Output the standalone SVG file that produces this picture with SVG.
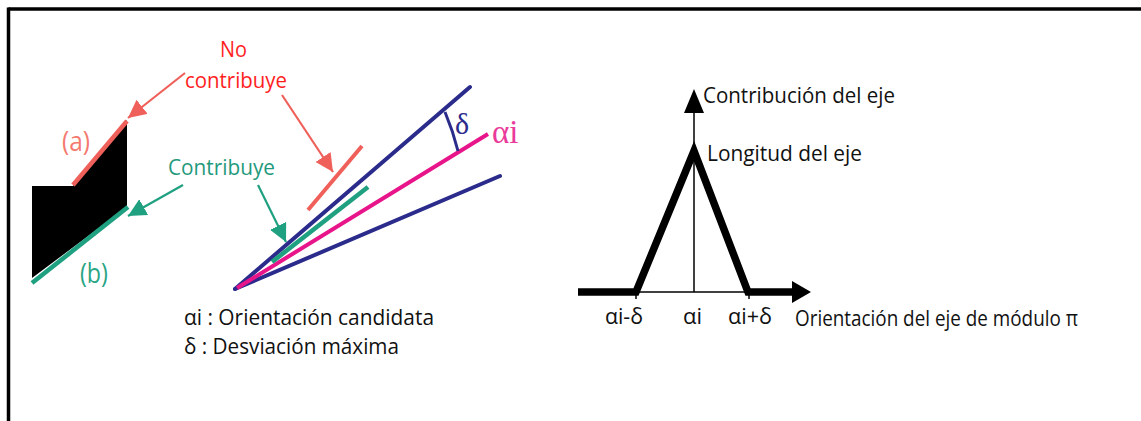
<svg xmlns="http://www.w3.org/2000/svg" width="1141" height="421" viewBox="0 0 1141 421">
<style>
.t{font-family:"Open Sans","Noto Sans","Liberation Sans",sans-serif;font-size:22px;fill:#111}
.red{font-family:"Open Sans","Noto Sans","Liberation Sans",sans-serif;font-size:22px;fill:#ff1e1e}
.teal{font-family:"Open Sans","Noto Sans","Liberation Sans",sans-serif;font-size:21px;fill:#1f9a7c}
.sal{font-family:"Open Sans","Noto Sans","Liberation Sans",sans-serif;font-size:27px;fill:#f47a70}
.tl{font-family:"Open Sans","Noto Sans","Liberation Sans",sans-serif;font-size:27px;fill:#2aa585}
.ser{font-family:"Liberation Serif","DejaVu Serif",serif}
.ra{stroke:#f0605a;stroke-width:2.2;fill:none}
.ta{stroke:#1fa080;stroke-width:2.2;fill:none}
</style>
<defs>
<marker id="mr" markerUnits="userSpaceOnUse" markerWidth="22" markerHeight="22" refX="18" refY="9" orient="auto"><path d="M0,0 L18,9 L0,18 Z" fill="#f0605a"/></marker>
<marker id="mt" markerUnits="userSpaceOnUse" markerWidth="22" markerHeight="22" refX="18" refY="9" orient="auto"><path d="M0,0 L18,9 L0,18 Z" fill="#1fa080"/></marker>
</defs>
<rect width="1141" height="421" fill="#fff"/>
<g id="frame">
<line x1="8.5" y1="9" x2="1141" y2="9" stroke="#000" stroke-width="3.5"/>
<line x1="8.5" y1="7.5" x2="8.5" y2="421" stroke="#000" stroke-width="3.5"/>
</g>
<g id="shape">
<polygon points="32,186 73,186 127,120 127,207 32,278" fill="#000"/>
<line x1="73" y1="185" x2="127" y2="121" stroke="#f0605a" stroke-width="4.5"/>
<line x1="32" y1="283" x2="128" y2="207" stroke="#1fa080" stroke-width="4.5"/>
<text class="sal" x="62" y="151" textLength="28" lengthAdjust="spacingAndGlyphs">(a)</text>
<text class="tl" x="80" y="283" textLength="28" lengthAdjust="spacingAndGlyphs">(b)</text>
</g>
<g id="labels-left">
<text class="red" x="220" y="57" textLength="27" lengthAdjust="spacingAndGlyphs">No</text>
<text class="red" x="185" y="88" textLength="102" lengthAdjust="spacingAndGlyphs">contribuye</text>
<text class="teal" x="168" y="175" textLength="107" lengthAdjust="spacingAndGlyphs">Contribuye</text>
</g>
<g id="fan">
<line x1="235" y1="289" x2="470" y2="87" stroke="#2b2b8c" stroke-width="4" stroke-linecap="round"/>
<line x1="235" y1="289" x2="500" y2="176" stroke="#2b2b8c" stroke-width="4" stroke-linecap="round"/>
<line x1="237" y1="288" x2="488" y2="134" stroke="#e8158a" stroke-width="4"/>
<line x1="272" y1="262" x2="368" y2="187" stroke="#1fa080" stroke-width="4.5"/>
<line x1="308" y1="210" x2="362" y2="146" stroke="#f0605a" stroke-width="4"/>
<path d="M445,112 A270,270 0 0 1 458,151" stroke="#2b2b8c" stroke-width="3" fill="none"/>
<text class="ser" x="455" y="134" font-size="30" fill="#2b2b8c">δ</text>
<text class="ser" x="492" y="143" font-size="33" fill="#ea3a9a">αi</text>
</g>
<g id="connectors">
<line class="ra" x1="185" y1="73" x2="128" y2="118" marker-end="url(#mr)"/>
<line class="ta" x1="183" y1="185" x2="128" y2="216" marker-end="url(#mt)"/>
<line class="ra" x1="282" y1="95" x2="333" y2="172" marker-end="url(#mr)"/>
<line class="ta" x1="258" y1="185" x2="286" y2="242" marker-end="url(#mt)"/>
</g>
<g id="legend">
<text class="t" x="184" y="325" textLength="250" lengthAdjust="spacingAndGlyphs">αi : Orientación candidata</text>
<text class="t" x="184" y="354" textLength="215" lengthAdjust="spacingAndGlyphs">δ : Desviación máxima</text>
</g>
<g id="plot">
<line x1="694" y1="292" x2="694" y2="110" stroke="#000" stroke-width="1.5"/>
<polygon points="694,89 704,113 684,113" fill="#000"/>
<line x1="636" y1="292" x2="750" y2="292" stroke="#000" stroke-width="1.5"/>
<line x1="636" y1="292" x2="636" y2="299" stroke="#000" stroke-width="1.5"/>
<line x1="749" y1="292" x2="749" y2="299" stroke="#000" stroke-width="1.5"/>
<polyline points="578,292 636,292 694,151 748,292 795,292" fill="none" stroke="#000" stroke-width="7.5" stroke-linejoin="miter"/>
<polygon points="811,292 792,281 792,303" fill="#000"/>
<text class="t" x="703" y="103" textLength="192" lengthAdjust="spacingAndGlyphs">Contribución del eje</text>
<text class="t" x="707" y="161" textLength="155" lengthAdjust="spacingAndGlyphs">Longitud del eje</text>
<text class="t" x="605" y="324" textLength="38" lengthAdjust="spacingAndGlyphs">αi-δ</text>
<text class="t" x="683" y="324" textLength="19" lengthAdjust="spacingAndGlyphs">αi</text>
<text class="t" x="728" y="324" textLength="44" lengthAdjust="spacingAndGlyphs">αi+δ</text>
<text class="t" x="795" y="326" textLength="283" lengthAdjust="spacingAndGlyphs">Orientación del eje de módulo π</text>
</g>
</svg>
